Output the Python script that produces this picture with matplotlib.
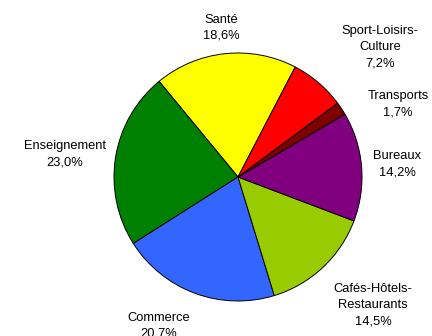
import matplotlib
matplotlib.use('Agg')
import matplotlib.pyplot as plt

plt.rcParams['font.family'] = ['Liberation Sans', 'DejaVu Sans']

# secteurs, dans l'ordre de tracé (sens anti-horaire)
secteurs = ['Santé', 'Enseignement', 'Commerce', 'Cafés-Hôtels-\nRestaurants',
            'Bureaux', 'Transports', 'Sport-Loisirs-\nCulture']
parts = [18.6, 23.0, 20.7, 14.5, 14.2, 1.7, 7.2]
couleurs = ['#FFFF00', '#008000', '#3366FF', '#99CC00',
            '#800080', '#800000', '#FF0000']

# position des étiquettes (unités du rayon)
pos_labels = [(-0.137, 1.202), (-1.395, 0.185), (-0.637, -1.20), (1.089, -1.032),
              (1.282, 0.105), (1.290, 0.585), (1.145, 1.048)]

fig = plt.figure(figsize=(4.32, 3.36), dpi=100)
ax = fig.add_axes([0, 0, 1, 1])

ax.pie(parts, colors=couleurs, startangle=62.5, counterclock=True,
       center=(0, 0), radius=1.0,
       wedgeprops=dict(edgecolor='black', linewidth=0.7))

for nom, val, (x, y) in zip(secteurs, parts, pos_labels):
    txt = nom + '\n' + ('%.1f%%' % val).replace('.', ',')
    ax.text(x, y, txt, ha='center', va='center', fontsize=9.3,
            linespacing=1.45, color='black')

ax.set_xlim(-238 / 124, (432 - 238) / 124)
ax.set_ylim((177 - 336) / 124, 177 / 124)
ax.set_aspect('auto')
ax.axis('off')

fig.savefig('out.png', dpi=100, facecolor='white')
